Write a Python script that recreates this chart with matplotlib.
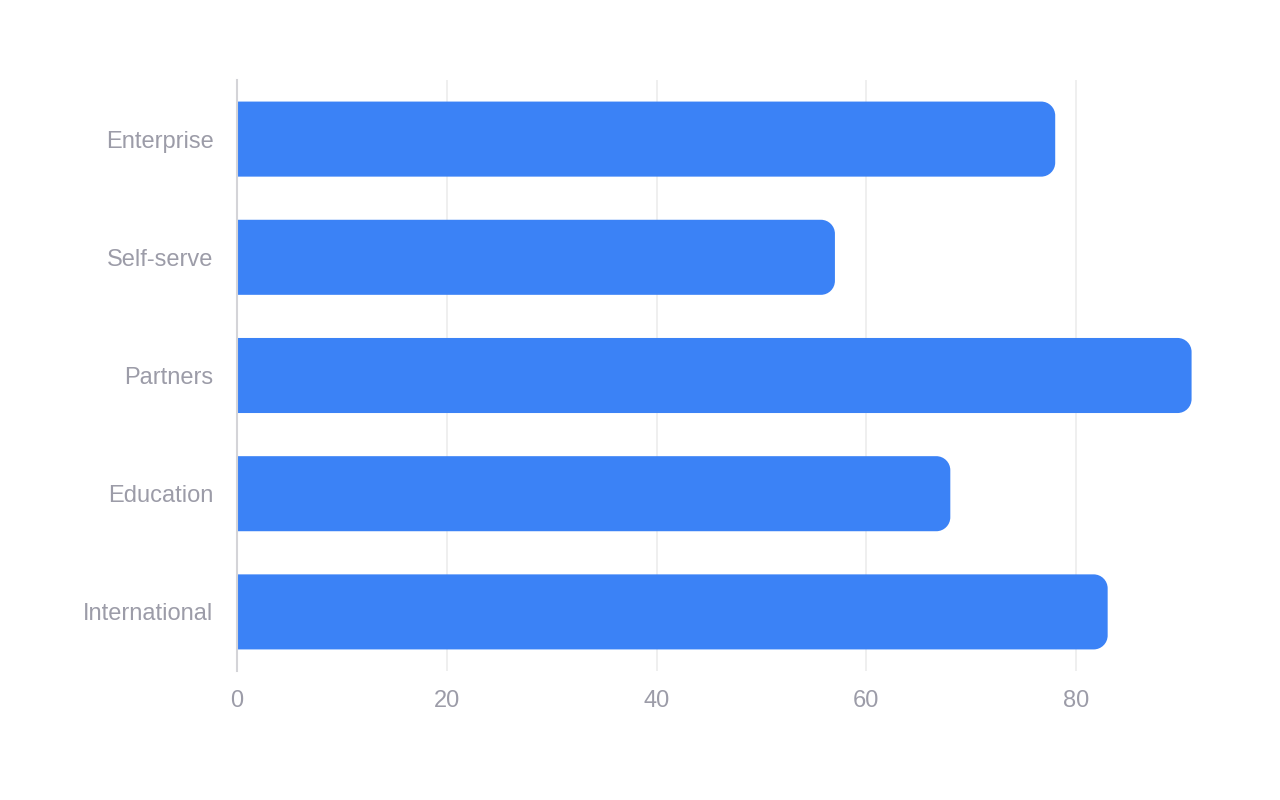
import matplotlib
matplotlib.use("Agg")
import matplotlib.pyplot as plt
from matplotlib.path import Path
from matplotlib.patches import PathPatch

categories = ["Enterprise", "Self-serve", "Partners", "Education", "International"]
values = [78, 57, 91, 68, 83]
x_ticks = [0, 20, 40, 60, 80]

plt.rcParams['font.family'] = ['Liberation Sans', 'DejaVu Sans']

W, H = 1280, 800
fig = plt.figure(figsize=(W / 100, H / 100), dpi=100)
left, right, top, bottom = 237, 1192, 80, 671
ax = fig.add_axes([left / W, 1 - bottom / H, (right - left) / W, (bottom - top) / H])

xmax = 91.04
n = len(categories)
ax.set_xlim(0, xmax)
ax.set_ylim(n - 0.5, -0.5)

# pixel -> data scale, for the rounded corners
px_x = xmax / (right - left)
px_y = n / (bottom - top)
r = 14
rx, ry = r * px_x, r * px_y
k = 0.5523

bar_h = 0.635
for i, v in enumerate(values):
    y0, y1 = i - bar_h / 2, i + bar_h / 2
    verts = [
        (0, y0),
        (v - rx, y0),
        (v - rx + k * rx, y0), (v, y0 + ry - k * ry), (v, y0 + ry),
        (v, y1 - ry),
        (v, y1 - ry + k * ry), (v - rx + k * rx, y1), (v - rx, y1),
        (0, y1),
        (0, y0),
    ]
    codes = [Path.MOVETO, Path.LINETO,
             Path.CURVE4, Path.CURVE4, Path.CURVE4,
             Path.LINETO,
             Path.CURVE4, Path.CURVE4, Path.CURVE4,
             Path.LINETO, Path.CLOSEPOLY]
    ax.add_patch(PathPatch(Path(verts, codes), facecolor="#3b82f6",
                           edgecolor="none", zorder=3))

ax.set_yticks(range(n))
ax.set_yticklabels(categories)
ax.set_xticks(x_ticks)
ax.set_xticklabels([str(t) for t in x_ticks])

ax.grid(axis="x", color="#ececec", linewidth=1.2, zorder=0)
ax.set_axisbelow(True)
for s in ["top", "right", "bottom"]:
    ax.spines[s].set_visible(False)
ax.spines["left"].set_color("#d4d4d8")
ax.spines["left"].set_linewidth(1.5)
ax.spines["left"].set_zorder(4)

ax.tick_params(axis="both", length=0, colors="#9c9ca8", labelsize=17)
ax.tick_params(axis="y", pad=17)
ax.tick_params(axis="x", pad=14)
for lbl in ax.get_yticklabels():
    lbl.set_y(lbl.get_position()[1])

fig.savefig("out.png", dpi=100, facecolor="white")
